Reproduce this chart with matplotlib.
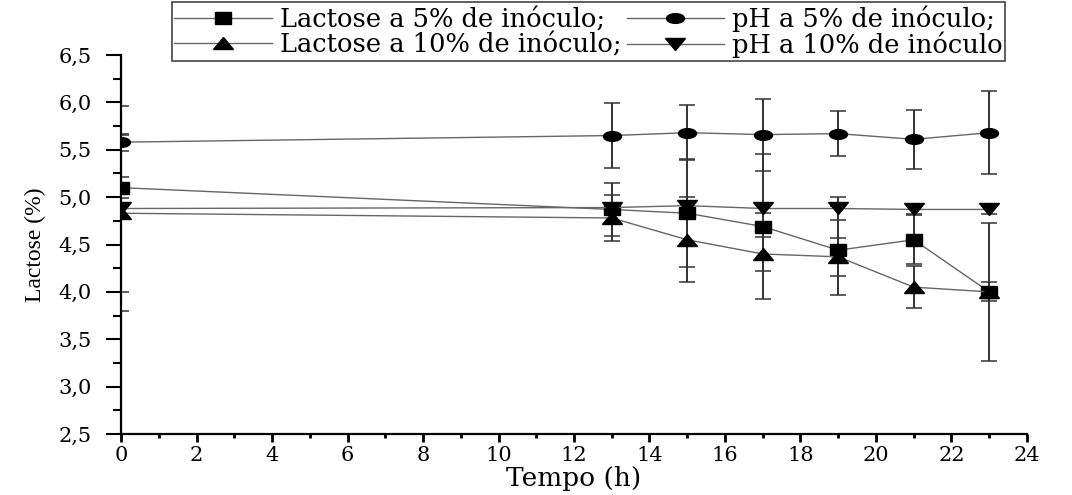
import matplotlib
matplotlib.use('Agg')
import matplotlib.pyplot as plt
from matplotlib.markers import MarkerStyle
from matplotlib.transforms import Affine2D
from matplotlib.ticker import MultipleLocator, FuncFormatter

#Data
tempo = [0, 13, 15, 17, 19, 21, 23]
lac5 = [5.10, 4.87, 4.83, 4.69, 4.44, 4.55, 4.00]
lac5_err = [0.11, 0.28, 0.57, 0.76, 0.47, 0.26, 0.73]
ph5 = [5.58, 5.65, 5.68, 5.66, 5.67, 5.61, 5.68]
ph5_err = [0.09, 0.34, 0.29, 0.38, 0.24, 0.31, 0.44]
lac10 = [4.83, 4.78, 4.55, 4.40, 4.37, 4.05, 4.00]
lac10_err = [0.83, 0.24, 0.45, 0.18, 0.20, 0.22, 0.10]
ph10 = [4.88, 4.89, 4.91, 4.88, 4.88, 4.87, 4.87]
ph10_err = [1.08, 0.05, 0.04, 0.05, 0.12, 0.05, 0.05]

labels = ['Lactose a 5% de inóculo;', 'pH a 5% de inóculo;',
          'Lactose a 10% de inóculo;', 'pH a 10% de inóculo']

plt.rcParams['font.family'] = ['DejaVu Serif']

fig = plt.figure(figsize=(10.72, 4.95), dpi=100)
ax = fig.add_axes([0.1129, 0.1232, 0.8451, 0.7657])

#Markers are wide in the original (stretched image)
def wide(m, sx):
    return MarkerStyle(m, transform=Affine2D().scale(sx, 1.0))

series = [
    (lac5, lac5_err, wide('s', 1.45), 8.0, labels[0]),
    (ph5, ph5_err, wide('o', 1.85), 7.0, labels[1]),
    (lac10, lac10_err, wide('^', 1.65), 8.5, labels[2]),
    (ph10, ph10_err, wide('v', 1.65), 8.5, labels[3]),
]

handles = []
for vals, errs, mk, ms, lab in series:
    ax.errorbar(tempo, vals, yerr=errs, fmt='none', ecolor='#333333',
                elinewidth=1.4, capsize=5.5, capthick=1.1, zorder=2)
    line, = ax.plot(tempo, vals, color='#666666', linewidth=1.0,
                    marker=mk, markersize=ms, markerfacecolor='black',
                    markeredgecolor='black', label=lab, zorder=3,
                    clip_on=True)
    handles.append(line)

#Format axes
ax.set_xlim(0, 24)
ax.set_ylim(2.5, 6.5)
ax.spines['top'].set_visible(False)
ax.spines['right'].set_visible(False)
ax.spines['left'].set_linewidth(1.6)
ax.spines['bottom'].set_linewidth(1.6)

ax.xaxis.set_major_locator(MultipleLocator(2))
ax.xaxis.set_minor_locator(MultipleLocator(1))
ax.yaxis.set_major_locator(MultipleLocator(0.5))
ax.yaxis.set_minor_locator(MultipleLocator(0.25))
ax.yaxis.set_major_formatter(FuncFormatter(lambda v, p: f"{v:.1f}".replace('.', ',')))

ax.tick_params(axis='y', which='major', direction='out', length=11, width=1.5,
               pad=10, labelsize=15)
ax.tick_params(axis='y', which='minor', direction='out', length=5.5, width=1.5)
ax.tick_params(axis='x', which='major', direction='out', length=5.5, width=2,
               pad=3, labelsize=15)
ax.tick_params(axis='x', which='minor', direction='out', length=3, width=2)

ax.set_xlabel('Tempo (h)', fontsize=19, labelpad=1)
ax.set_ylabel('Lactose (%)', fontsize=17, family='Liberation Serif', labelpad=9)

#Legend in two columns, row-wise like the original
leg = fig.legend([handles[0], handles[2], handles[1], handles[3]],
                 [labels[0], labels[2], labels[1], labels[3]],
                 ncol=2, loc='upper center', bbox_to_anchor=(0.549, 0.995),
                 fontsize=18.5, handlelength=3.8, handletextpad=0.3,
                 columnspacing=0.2, borderpad=0.1, labelspacing=0.0,
                 fancybox=False, framealpha=1, edgecolor='#444444',
                 borderaxespad=0)
leg.get_frame().set_linewidth(1.2)

fig.savefig('out.png', dpi=100)
